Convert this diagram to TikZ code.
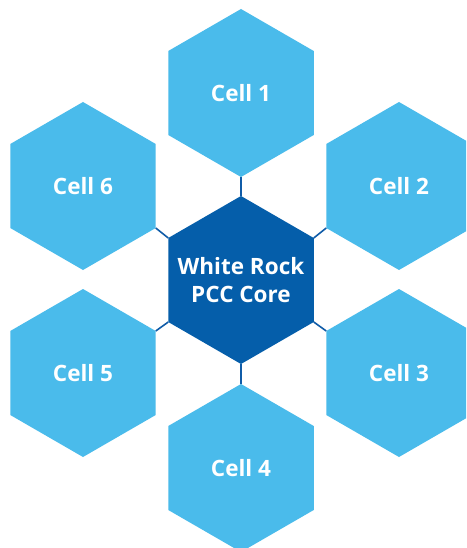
\documentclass[tikz,border=0pt]{standalone}
\usepackage{fontspec}
\setmainfont{Open Sans}
\usetikzlibrary{shapes.geometric}
\definecolor{cellblue}{RGB}{74,187,235}
\definecolor{coreblue}{RGB}{5,94,170}
\definecolor{linkblue}{RGB}{16,92,168}
\tikzset{
  hextext/.style={text=white, font=\bfseries\fontsize{22.5}{28}\selectfont, align=center, inner sep=0pt},
  hexcell/.style={regular polygon, regular polygon sides=6, shape border rotate=30,
    minimum size=168pt, inner sep=0pt, outer sep=0pt, fill=cellblue, hextext},
  hexcore/.style={hexcell, fill=coreblue},
  link/.style={draw=linkblue, line width=1.6pt}
}
\begin{document}
\begin{tikzpicture}[x=1pt,y=-1pt]
\clip (0,0) rectangle (466,548);
\fill[white] (0,0) rectangle (466,548);
\node[hexcore] (core) at (241,280) {};
\node[hextext] (coretext) at (core.center) {White Rock\\PCC Core};
\node[hexcell] (c1) at (241,93) {Cell 1};
\node[hexcell] (c2) at (399,186) {Cell 2};
\node[hexcell] (c3) at (399,373) {Cell 3};
\node[hexcell] (c4) at (241,468) {Cell 4};
\node[hexcell] (c5) at (83,373) {Cell 5};
\node[hexcell] (c6) at (83,186) {Cell 6};
\draw[link] (core.90) -- (c1.-90);
\draw[link] (core.30) -- (c2.210);
\draw[link] (core.-30) -- (c3.150);
\draw[link] (core.-90) -- (c4.90);
\draw[link] (core.210) -- (c5.30);
\draw[link] (core.150) -- (c6.-30);
\end{tikzpicture}
\end{document}
